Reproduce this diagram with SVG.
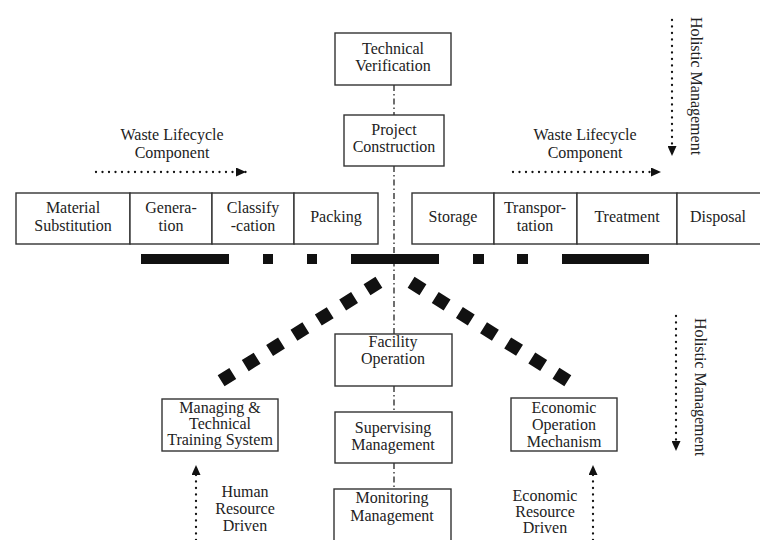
<svg xmlns="http://www.w3.org/2000/svg" width="760" height="540" viewBox="0 0 760 540">
<style>
  .box { fill: #fff; stroke: #333; stroke-width: 1.4; }
  .t { font-family: "Liberation Serif", "Times New Roman", serif; font-size: 16px; fill: #222; text-anchor: middle; }
  .dd { stroke: #222; stroke-width: 1.3; stroke-dasharray: 6 3 1.5 3; fill: none; }
  .dot { stroke: #111; stroke-width: 2.3; stroke-dasharray: 0 6.5; stroke-linecap: round; fill: none; marker-end: url(#ah); }
  .bar { fill: #111; }
  .dia { stroke: #111; stroke-width: 13; fill: none; }
</style>
<defs>
  <marker id="ah" markerUnits="userSpaceOnUse" markerWidth="10" markerHeight="9" refX="10" refY="4.5" orient="auto">
    <path d="M0,0 L10,4.5 L0,9 z" fill="#111"/>
  </marker>
</defs>
<rect width="760" height="540" fill="#fff"/>

<g id="connectors">
  <line class="dd" x1="394" y1="85" x2="394" y2="115"/>
  <line class="dd" x1="394" y1="166" x2="394" y2="334"/>
  <line class="dd" x1="394" y1="386" x2="394" y2="412"/>
  <line class="dd" x1="394" y1="463" x2="394" y2="489"/>
  <rect class="bar" x="141" y="254" width="88" height="10"/>
  <rect class="bar" x="263" y="254" width="10" height="10"/>
  <rect class="bar" x="307" y="254" width="10" height="10"/>
  <rect class="bar" x="351" y="254" width="88" height="10"/>
  <rect class="bar" x="473" y="254" width="11" height="10"/>
  <rect class="bar" x="517" y="254" width="11" height="10"/>
  <rect class="bar" x="562" y="254" width="87" height="10"/>
  <line class="dia" x1="378.9" y1="282.3" x2="221.1" y2="380.7" stroke-dasharray="14 14.7"/>
  <line class="dia" x1="411.1" y1="282.3" x2="567.9" y2="380.7" stroke-dasharray="14 14.5"/>
  <line class="dot" x1="96" y1="172" x2="246" y2="172"/>
  <line class="dot" x1="513" y1="172" x2="661" y2="172"/>
  <line class="dot" x1="672" y1="20" x2="672" y2="156"/>
  <line class="dot" x1="676" y1="316" x2="676" y2="451"/>
  <line class="dot" x1="196" y1="540" x2="196" y2="465"/>
  <line class="dot" x1="593" y1="540" x2="593" y2="465"/>
</g>

<g id="labels">
  <text class="t" x="172" y="140">Waste Lifecycle</text>
  <text class="t" x="172" y="158">Component</text>
  <text class="t" x="585" y="140">Waste Lifecycle</text>
  <text class="t" x="585" y="158">Component</text>
  <text class="t" transform="translate(691,86) rotate(90)">Holistic Management</text>
  <text class="t" transform="translate(695,387) rotate(90)">Holistic Management</text>
  <text class="t" x="245" y="497">Human</text>
  <text class="t" x="245" y="514">Resource</text>
  <text class="t" x="245" y="531">Driven</text>
  <text class="t" x="545" y="501">Economic</text>
  <text class="t" x="545" y="517">Resource</text>
  <text class="t" x="545" y="533">Driven</text>
</g>

<g id="technical-verification">
  <rect class="box" x="335" y="33" width="116" height="52"/>
  <text class="t" x="393" y="54">Technical</text>
  <text class="t" x="393" y="71">Verification</text>
</g>
<g id="project-construction">
  <rect class="box" x="344" y="115" width="100" height="51"/>
  <text class="t" x="394" y="135">Project</text>
  <text class="t" x="394" y="152">Construction</text>
</g>

<g id="material-substitution">
  <rect class="box" x="16" y="193" width="114" height="51"/>
  <text class="t" x="73" y="213">Material</text>
  <text class="t" x="73" y="231">Substitution</text>
</g>
<g id="generation">
  <rect class="box" x="130" y="193" width="82" height="51"/>
  <text class="t" x="171" y="213">Genera-</text>
  <text class="t" x="171" y="231">tion</text>
</g>
<g id="classification">
  <rect class="box" x="212" y="193" width="82" height="51"/>
  <text class="t" x="253" y="213">Classify</text>
  <text class="t" x="253" y="231">-cation</text>
</g>
<g id="packing">
  <rect class="box" x="294" y="193" width="84" height="51"/>
  <text class="t" x="336" y="222">Packing</text>
</g>
<g id="storage">
  <rect class="box" x="412" y="193" width="82" height="51"/>
  <text class="t" x="453" y="222">Storage</text>
</g>
<g id="transportation">
  <rect class="box" x="494" y="193" width="83" height="51"/>
  <text class="t" x="535" y="213">Transpor-</text>
  <text class="t" x="535" y="231">tation</text>
</g>
<g id="treatment">
  <rect class="box" x="577" y="193" width="100" height="51"/>
  <text class="t" x="627" y="222">Treatment</text>
</g>
<g id="disposal">
  <rect class="box" x="677" y="193" width="84" height="51"/>
  <text class="t" x="718" y="222">Disposal</text>
</g>

<g id="facility-operation">
  <rect class="box" x="335" y="334" width="117" height="52"/>
  <text class="t" x="393" y="347">Facility</text>
  <text class="t" x="393" y="364">Operation</text>
</g>
<g id="managing-training">
  <rect class="box" x="162" y="399" width="116" height="52"/>
  <text class="t" x="220" y="413">Managing &amp;</text>
  <text class="t" x="220" y="429">Technical</text>
  <text class="t" x="220" y="445">Training System</text>
</g>
<g id="supervising-management">
  <rect class="box" x="335" y="412" width="117" height="51"/>
  <text class="t" x="393" y="433">Supervising</text>
  <text class="t" x="393" y="450">Management</text>
</g>
<g id="economic-operation">
  <rect class="box" x="511" y="398" width="106" height="53"/>
  <text class="t" x="564" y="413">Economic</text>
  <text class="t" x="564" y="430">Operation</text>
  <text class="t" x="564" y="447">Mechanism</text>
</g>
<g id="monitoring-management">
  <rect class="box" x="334" y="489" width="117" height="60"/>
  <text class="t" x="392" y="503">Monitoring</text>
  <text class="t" x="392" y="521">Management</text>
</g>
</svg>
